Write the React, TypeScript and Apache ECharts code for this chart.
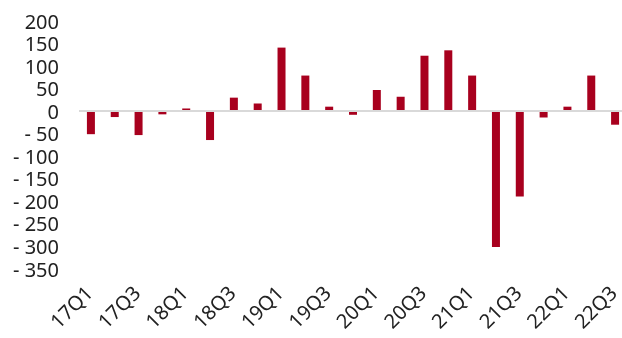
import React, { useEffect, useRef } from "react";
import * as echarts from "echarts";

const categories = [
  "17Q1", "17Q2", "17Q3", "17Q4",
  "18Q1", "18Q2", "18Q3", "18Q4",
  "19Q1", "19Q2", "19Q3", "19Q4",
  "20Q1", "20Q2", "20Q3", "20Q4",
  "21Q1", "21Q2", "21Q3", "21Q4",
  "22Q1", "22Q2", "22Q3",
];

const values = [
  -51, -13, -53, -7,
  6, -64, 30, 17,
  141, 79, 10, -8,
  47, 32, 123, 135,
  79, -301, -189, -14,
  10, 79, -30,
];

const yMin = -350;
const yMax = 200;
const yStep = 50;

export default function App() {
  const ref = useRef<HTMLDivElement>(null);
  useEffect(() => {
    if (!ref.current) return;
    const chart = echarts.init(ref.current, undefined, { renderer: "svg" });
    const font = "'Noto Sans', sans-serif";
    chart.setOption({
      animation: false,
      grid: { left: 79, right: 0, top: 21, bottom: 69, containLabel: false },
      xAxis: {
        type: "category",
        data: categories,
        axisLine: { show: false, onZero: false },
        axisTick: { show: false },
        axisLabel: {
          interval: 1,
          rotate: 45,
          margin: 18,
          fontSize: 20,
          padding: [0, 3, 6, 0],
          color: "#222",
          fontFamily: font,
        },
      },
      yAxis: {
        type: "value",
        min: yMin,
        max: yMax,
        interval: yStep,
        axisLine: { show: false },
        axisTick: { show: false },
        splitLine: { show: false },
        axisLabel: {
          margin: 20,
          fontSize: 20,
          color: "#222",
          fontFamily: font,
          formatter: (v: number) => (v < 0 ? "- " + Math.abs(v) : String(v)),
        },
      },
      series: [
        {
          type: "bar",
          data: values,
          barWidth: 8,
          itemStyle: { color: "#A8001E" },
          markLine: {
            silent: true,
            symbol: ["none", "none"],
            label: { show: false },
            lineStyle: { color: "#D9D9D9", width: 2, type: "solid" },
            data: [{ yAxis: 0 }],
          },
        },
      ],
    });
    return () => chart.dispose();
  }, []);
  return (
    <div style={{ position: "fixed", left: 0, top: 0, width: 622, height: 338, overflow: "hidden" }}>
      <div ref={ref} style={{ width: 627, height: 338 }} />
    </div>
  );
}
